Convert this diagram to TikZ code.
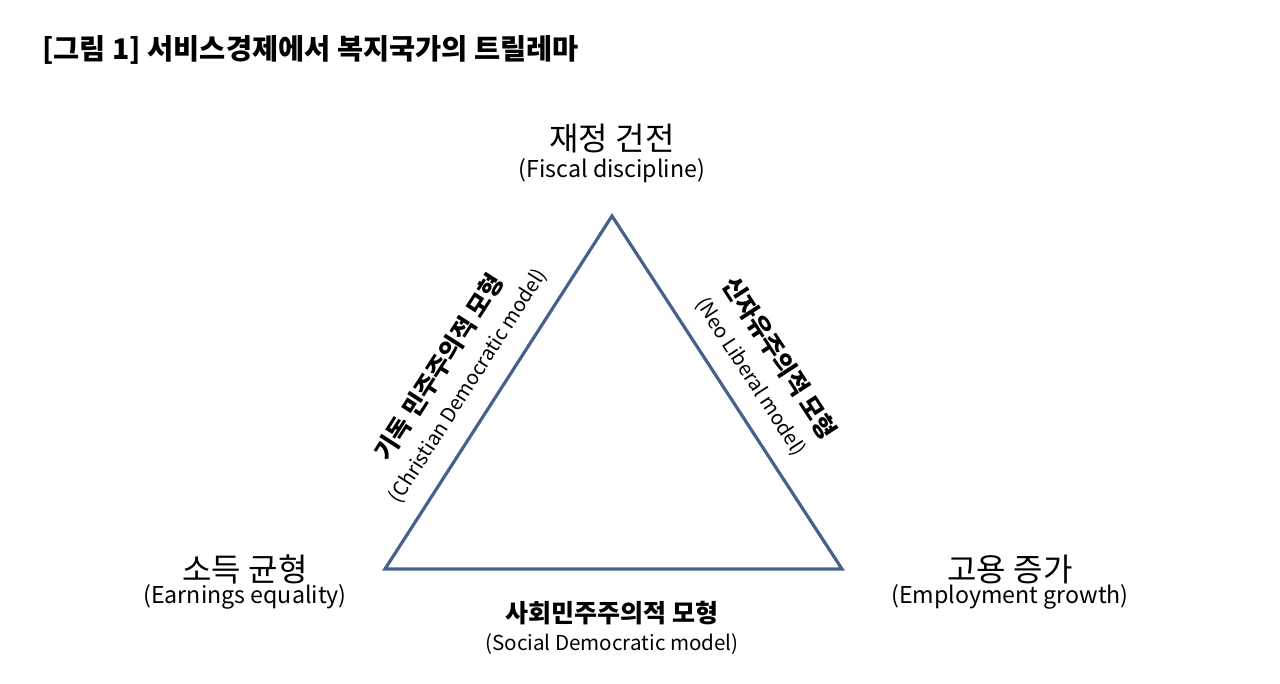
\documentclass[tikz,border=0pt]{standalone}
\usepackage{fontspec}
\setmainfont{Noto Sans CJK KR}
\usepackage[rgb]{xcolor}
\usepackage{tikz}
\definecolor{edgeblue}{RGB}{70,98,140}

\begin{document}
\begin{tikzpicture}[x=0.5pt, y=-0.5pt,
  kor/.style={inner sep=0pt, font=\fontsize{16}{18}\selectfont},
  eng/.style={inner sep=0pt, font=\fontsize{11.6}{13}\selectfont},
  model/.style={inner sep=0pt, align=center, font=\fontsize{10}{16}\selectfont}]

\useasboundingbox (0,0) rectangle (1280,684);

% title
\path
(42,50) node[anchor=west, inner sep=0pt, font=\bfseries\fontsize{14.2}{16}\selectfont] (title)
 {[그림 1] 서비스경제에서 복지국가의 트릴레마};

%% triangle
\coordinate (fiscal) at (612,216);
\coordinate (earn) at (385,569);
\coordinate (employ) at (842,569);

\draw[edgeblue, line width=1.6pt, line join=miter] (fiscal) -- (earn) -- (employ) -- cycle;

% corners
\path
(612,139) node[kor] (fiscalkr){재정 건전}
(612,171) node[eng] (fiscalen){(Fiscal discipline)};
\path
(245,569) node[kor] (earnkr){소득 균형}
(245,597) node[eng] (earnen){(Earnings equality)};
\path
(1010,569) node[kor] (employkr){고용 증가}
(1010,597) node[eng] (employen){(Employment growth)};

% models on the sides
\path
(453,376) node[model, rotate=57.3] (christian)
 {{\bfseries\fontsize{12.3}{14}\selectfont 기독 민주주의적 모형}\\(Christian Democratic model)};
\path
(766,367) node[model, rotate=-57] (neolib)
 {{\bfseries\fontsize{12.3}{14}\selectfont 신자유주의적 모형}\\(Neo Liberal model)};
\path
(612,628) node[model, font=\fontsize{10.3}{14}\selectfont] (social)
 {{\bfseries\fontsize{12.5}{14}\selectfont 사회민주주의적 모형}\\(Social Democratic model)};

\end{tikzpicture}
\end{document}
